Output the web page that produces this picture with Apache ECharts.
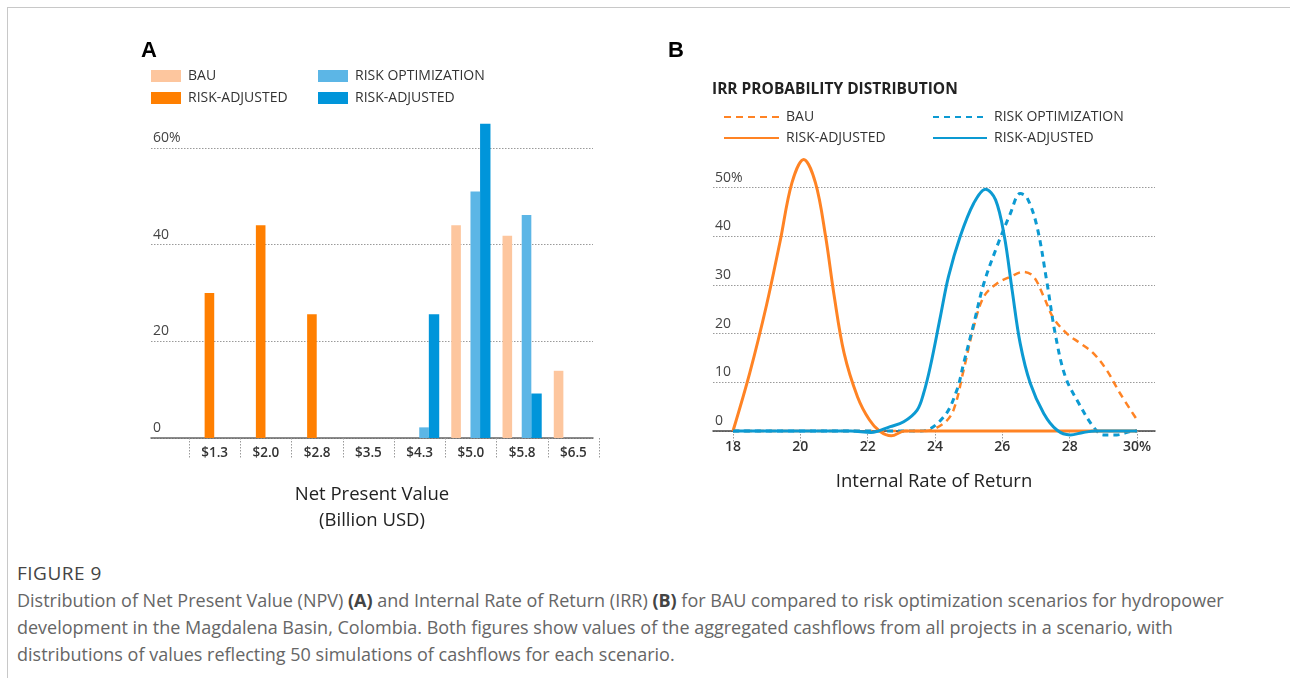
<!DOCTYPE html>
<html>
<head>
<meta charset="utf-8">
<script src="https://cdn.jsdelivr.net/npm/echarts@6/dist/echarts.min.js"></script>
<style>
  html, body { margin: 0; padding: 0; background: #fff; }
  #page { position: relative; width: 1290px; height: 678px; overflow: hidden; background: #fff; }
  #frame { position: absolute; left: 7px; top: 7px; width: 1290px; height: 700px; z-index: 5; pointer-events: none;
           border-top: 1px solid #c8c8c8; border-left: 1px solid #c8c8c8; }
  #chart { position: absolute; left: 0; top: 0; width: 1290px; height: 548px; }
  #caption { position: absolute; left: 17px; top: 560px; font-family: "Open Sans", sans-serif;
             font-size: 18px; line-height: 27px; color: #666; white-space: nowrap; }
  #caption .fig { color: #444; font-size: 19px; letter-spacing: 0.5px; }
  #caption b { color: #444; }
</style>
</head>
<body>
<div id="page">
  <div id="frame"></div>
  <div id="chart"></div>
  <div id="caption">
    <div class="fig">FIGURE 9</div>
    <div>Distribution of Net Present Value (NPV) <b>(A)</b> and Internal Rate of Return (IRR) <b>(B)</b> for BAU compared to risk optimization scenarios for hydropower<br>development in the Magdalena Basin, Colombia. Both figures show values of the aggregated cashflows from all projects in a scenario, with<br>distributions of values reflecting 50 simulations of cashflows for each scenario.</div>
  </div>
</div>
<script>
// ---------- Panel A data (Net Present Value distribution, %) ----------
const npvCategories = ['$1.3', '$2.0', '$2.8', '$3.5', '$4.3', '$5.0', '$5.8', '$6.5'];
const npvBAU          = [null, null, null, null, null, 44.0, 41.8, 13.9];
const npvRiskAdjBAU   = [30.0, 44.0, 25.6, null, null, null, null, null];
const npvRiskOpt      = [null, null, null, null, 2.2, 51.0, 46.1, null];
const npvRiskAdjOpt   = [null, null, null, null, 25.6, 65.0, 9.2, null];
const npvYTicks = [0, 20, 40, 60];

// ---------- Panel B data (IRR probability distribution, [IRR %, probability %]) ----------
const irrBAU = [[18,0],[20,0],[22,0],[23.7,0],[24.26,1.6],[24.55,4.3],[24.85,12.5],[25.15,21.4],[25.45,27.6],[25.84,30.3],[26.24,31.7],[26.63,32.7],[26.93,31.7],[27.23,27.6],[27.52,23.2],[27.92,20],[28.32,18],[28.7,16],[29.1,12.5],[29.5,7.7],[30,2.3]];
const irrRiskAdjBAU = [[18,0],[18.5,12],[19,26],[19.4,39],[19.75,51],[20.1,55.8],[20.45,51],[20.75,40],[21.0,28],[21.3,16],[21.7,7],[22.05,2.3],[22.35,0],[22.7,-1],[23.1,0],[25,0],[28,0],[30,0]];
const irrRiskOpt = [[18,0],[20,0],[22,0],[23.6,0],[24.26,2.9],[24.65,8.4],[24.85,13.9],[25.15,22],[25.45,30.3],[25.84,37.9],[26.24,44.7],[26.53,48.8],[26.73,48],[27.03,42],[27.33,30.3],[27.57,20],[27.87,11.2],[28.27,5.7],[28.7,0.9],[29.0,-0.8],[29.4,-0.8],[29.9,0],[30,0]];
const irrRiskAdjOpt = [[18,0],[20,0],[21.5,0],[22.1,-0.3],[22.67,0.9],[23.07,1.9],[23.47,4.3],[23.66,7.7],[23.86,13.2],[24.16,23.5],[24.4,31.7],[24.75,40],[25.15,46.8],[25.5,49.7],[25.8,47.5],[26.06,40],[26.29,29],[26.53,18],[26.83,9.8],[27.23,3.6],[27.62,0.2],[28.02,-0.8],[28.4,-0.3],[28.8,0],[30,0]];
const irrXTicks = [18, 20, 22, 24, 26, 28, 30];

const legendLabels = {
  aBAU: 'BAU', aRAB: 'RISK-ADJUSTED', aRO: 'RISK OPTIMIZATION', aRAO: 'RISK-ADJUSTED',
  bBAU: 'BAU', bRAB: 'RISK-ADJUSTED', bRO: 'RISK OPTIMIZATION', bRAO: 'RISK-ADJUSTED'
};

const C = {
  bau: '#FDC69E', orange: '#FF7F00', lightBlue: '#5CB6E6', darkBlue: '#0095DA',
  lineOrange: '#FF8324', lineBlue: '#0C9AD2'
};
const FONT = '"Open Sans", "Noto Sans", sans-serif';

const chart = echarts.init(document.getElementById('chart'), null, { renderer: 'canvas' });

function legendItem(name, left, top, w, h, icon) {
  const l = {
    left: left, top: top, itemWidth: w, itemHeight: h, data: [name],
    selectedMode: false, padding: 0,
    formatter: n => legendLabels[n],
    textStyle: { fontFamily: FONT, fontSize: 14, color: '#333', padding: [0, 0, 0, 2] }
  };
  if (icon) l.icon = icon;
  else l.itemStyle = { opacity: 0 };
  return l;
}

const gridLabel = (pctAt) => ({
  inside: true, verticalAlign: 'bottom', margin: 2, padding: [0, 0, 3, 0],
  fontFamily: FONT, fontSize: 14, color: '#444', fontWeight: 500,
  formatter: v => (v === pctAt ? v + '%' : String(v))
});
const dotted = { color: '#9a9a9a', type: [1.5, 1.5], width: 1 };

const option = {
  animation: false,
  backgroundColor: 'transparent',
  graphic: [
    { type: 'text', left: 141, top: 40, style: { text: 'A', font: 'bold 22px "Liberation Sans", Arial, sans-serif', fill: '#000' } },
    { type: 'text', left: 668, top: 40, style: { text: 'B', font: 'bold 22px "Liberation Sans", Arial, sans-serif', fill: '#000' } },
    { type: 'text', left: 712, top: 82, style: { text: 'IRR PROBABILITY DISTRIBUTION', font: 'bold 15.5px ' + FONT, fill: '#222' } }
  ],
  legend: [
    legendItem('aBAU', 151, 69, 30, 12, 'rect'),
    legendItem('aRAB', 151, 91, 30, 12, 'rect'),
    legendItem('aRO', 318, 69, 30, 12, 'rect'),
    legendItem('aRAO', 318, 91, 30, 12, 'rect'),
    legendItem('bBAU', 723, 110, 55, 14),
    legendItem('bRAB', 723, 131, 55, 14),
    legendItem('bRO', 932, 110, 54, 14),
    legendItem('bRAO', 932, 131, 54, 14)
  ],
  grid: [
    { left: 151, top: 148, width: 442, height: 290 },
    { left: 189, top: 99.5, width: 410, height: 338.5 },
    { left: 713, top: 187.7, width: 442, height: 243.3 },
    { left: 733, top: 139, width: 404, height: 292 }
  ],
  xAxis: [
    { gridIndex: 0, type: 'value', min: 0, max: 1,
      axisLine: { show: true, lineStyle: { color: '#666', width: 1.5 } },
      axisTick: { show: false }, axisLabel: { show: false }, splitLine: { show: false },
      name: 'Net Present Value\n(Billion USD)', nameLocation: 'middle', nameGap: 44,
      nameTextStyle: { fontFamily: FONT, fontSize: 18.5, lineHeight: 26, color: '#222' } },
    { gridIndex: 1, type: 'category', data: npvCategories,
      axisLine: { show: false },
      axisTick: { show: true, length: 20, lineStyle: dotted },
      axisLabel: { fontFamily: FONT, fontSize: 13.5, fontWeight: 600, color: '#333', margin: 8 },
      splitLine: { show: false } },
    { gridIndex: 2, type: 'value', min: 0, max: 1,
      axisLine: { show: true, lineStyle: { color: '#444', width: 1.5 } },
      axisTick: { show: false }, axisLabel: { show: false }, splitLine: { show: false },
      name: 'Internal Rate of Return', nameLocation: 'middle', nameGap: 39,
      nameTextStyle: { fontFamily: FONT, fontSize: 18.5, lineHeight: 24, color: '#222' } },
    { gridIndex: 3, type: 'value', min: irrXTicks[0], max: irrXTicks[irrXTicks.length - 1], interval: 2,
      axisLine: { show: false },
      axisTick: { show: true, length: 12, lineStyle: dotted },
      axisLabel: { fontFamily: FONT, fontSize: 14, fontWeight: 600, color: '#333', margin: 9,
                   formatter: v => (v === 30 ? '30%' : String(v)) },
      splitLine: { show: false } }
  ],
  yAxis: [
    { gridIndex: 0, type: 'value', min: npvYTicks[0], max: npvYTicks[npvYTicks.length - 1], interval: 20,
      axisLine: { show: false }, axisTick: { show: false },
      axisLabel: gridLabel(60), splitLine: { show: true, lineStyle: dotted } },
    { gridIndex: 1, type: 'value', min: 0, max: 70, show: false, splitLine: { show: false } },
    { gridIndex: 2, type: 'value', min: 0, max: 50, interval: 10,
      axisLine: { show: false }, axisTick: { show: false },
      axisLabel: gridLabel(50), splitLine: { show: true, lineStyle: dotted } },
    { gridIndex: 3, type: 'value', min: 0, max: 60, show: false, splitLine: { show: false } }
  ],
  series: [
    { name: 'aBAU', type: 'bar', xAxisIndex: 1, yAxisIndex: 1, data: npvBAU, barWidth: 9.6, barGap: '0%', itemStyle: { color: C.bau } },
    { name: 'aRAB', type: 'bar', xAxisIndex: 1, yAxisIndex: 1, data: npvRiskAdjBAU, barWidth: 9.6, barGap: '0%', itemStyle: { color: C.orange } },
    { name: 'aRO', type: 'bar', xAxisIndex: 1, yAxisIndex: 1, data: npvRiskOpt, barWidth: 9.6, barGap: '0%', itemStyle: { color: C.lightBlue } },
    { name: 'aRAO', type: 'bar', xAxisIndex: 1, yAxisIndex: 1, data: npvRiskAdjOpt, barWidth: 10.4, barGap: '0%', itemStyle: { color: C.darkBlue } },

    { name: 'bBAU', type: 'line', xAxisIndex: 3, yAxisIndex: 3, data: irrBAU, smooth: 0.35, symbol: 'none', showSymbol: false, clip: false, z: 2,
      lineStyle: { color: C.lineOrange, width: 2.5, type: [7, 5] }, itemStyle: { color: C.lineOrange } },
    { name: 'bRO', type: 'line', xAxisIndex: 3, yAxisIndex: 3, data: irrRiskOpt, smooth: 0.35, symbol: 'none', showSymbol: false, clip: false, z: 3,
      lineStyle: { color: C.lineBlue, width: 3, type: [6, 5] }, itemStyle: { color: C.lineBlue } },
    { name: 'bRAB', type: 'line', xAxisIndex: 3, yAxisIndex: 3, data: irrRiskAdjBAU, smooth: 0.35, symbol: 'none', showSymbol: false, clip: false, z: 4,
      lineStyle: { color: C.lineOrange, width: 3 }, itemStyle: { color: C.lineOrange } },
    { name: 'bRAO', type: 'line', xAxisIndex: 3, yAxisIndex: 3, data: irrRiskAdjOpt, smooth: 0.35, symbol: 'none', showSymbol: false, clip: false, z: 5,
      lineStyle: { color: C.lineBlue, width: 3 }, itemStyle: { color: C.lineBlue } }
  ]
};
chart.setOption(option);
</script>
</body>
</html>
